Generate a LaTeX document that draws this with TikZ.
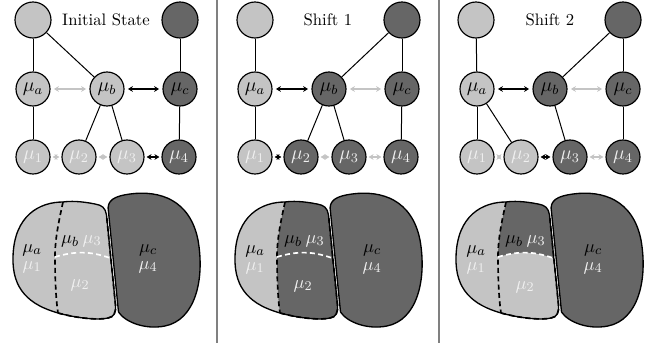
\documentclass[tikz,border=0pt]{standalone}
\usepackage{amsmath}
\usetikzlibrary{arrows.meta}

\definecolor{shadelite}{gray}{0.77}
\definecolor{shadedark}{gray}{0.40}

% outlines of the two regions, in pixel units
\newcommand\blobleft{(63,202) .. controls (40,202) and (14,215) .. (13,257)
  .. controls (12,290) and (30,305) .. (58,313)}
\newcommand\blobbottom{.. controls (80,319) and (100,320) .. (108,318)
  .. controls (114,317) and (116,313) .. (115.5,305) -- (106.5,215)}
\newcommand\blobtop{.. controls (105.5,208) and (102,205) .. (95,204)
  .. controls (80,201) and (70,201) .. (63,202)}
\newcommand\blobright{(108.5,212) .. controls (106,200) and (115,196) .. (130,194)
  .. controls (160,190) and (190,200) .. (198,240)
  .. controls (205,280) and (195,320) .. (165,326)
  .. controls (145,330) and (125,322) .. (118.5,312) -- cycle}
\newcommand\splitline{(63,202) .. controls (58,225) and (55,240) .. (55,257)
  .. controls (55,280) and (56,300) .. (58,313)}
\newcommand\midline{(55,257) .. controls (75,251) and (90,251) .. (110,258)}

\tikzset{
  main node/.style={circle,draw,line width=0.7pt,inner sep=0pt,minimum size=20.4pt,font=\large},
  lite node/.style={main node,fill=shadelite},
  dark node/.style={main node,fill=shadedark},
  big/.style={minimum size=21.6pt},
  num/.style={text=white!94!black},
  tag/.style={font=\fontsize{11}{13}\selectfont},
  link/.style={line width=0.6pt},
  hot/.style={<->,line width=0.9pt,shorten <=2pt,shorten >=2pt},
  cold/.style={hot,draw=shadelite},
  short/.style={shorten <=1.2pt,shorten >=1.2pt},
  outline/.style={line width=0.8pt},
  splitdash/.style={line width=1pt,dash pattern=on 3pt off 2pt},
  sep/.style={draw=black!50,line width=1.2pt}
}

\begin{document}
\begin{tikzpicture}[x=0.6pt,y=-0.6pt,>={Stealth[length=3pt,width=3.5pt,inset=1pt]}]
  \useasboundingbox (0,0) rectangle (651,343);

  \draw[sep] (217,0) -- (217,343);
  \draw[sep] (439,0) -- (439,343);

  % Initial State
  \node[lite node,big] (Atl) at (33,20) {};
  \node[dark node,big] (Atr) at (180,20) {};
  \node (Atitle) at (106,20) {Initial State};
  \node[lite node] (Aa) at (33,89) {$\mu_a$};
  \node[lite node] (Ab) at (107,89) {$\mu_b$};
  \node[dark node] (Ac) at (180,89) {$\mu_c$};
  \node[lite node,num] (A1) at (33,157) {$\mu_1$};
  \node[lite node,num] (A2) at (79,157) {$\mu_2$};
  \node[lite node,num] (A3) at (127,157) {$\mu_3$};
  \node[dark node,num] (A4) at (179,157) {$\mu_4$};

  \path[link]
    (Atl) edge (Aa)
          edge (Ab)
    (Atr) edge (Ac)
    (Aa) edge (A1)
    (Ab) edge (A2)
         edge (A3)
    (Ac) edge (A4);
  \draw[cold] (Aa) -- (Ab);
  \draw[hot] (Ab) -- (Ac);
  \draw[cold,short] (A1) -- (A2);
  \draw[cold,short] (A2) -- (A3);
  \draw[hot,short] (A3) -- (A4);

  \fill[shadelite] \blobleft \blobbottom \blobtop -- cycle;
  \fill[shadedark] \blobright;
  \draw[outline] \blobleft \blobbottom \blobtop -- cycle;
  \draw[splitdash] (58,313) \blobbottom;
  \draw[splitdash] \splitline;
  \draw[outline] \blobright;
  \draw[white,splitdash] \midline;
  \node[tag] (Ala) at (32,250) {$\mu_a$};
  \node[tag,num] (Al1) at (32,267) {$\mu_1$};
  \node[tag] (Alb) at (70,241) {$\mu_b$};
  \node[tag,num] (Al3) at (92,241) {$\mu_3$};
  \node[tag,num] (Al2) at (80,285) {$\mu_2$};
  \node[tag] (Alc) at (148,250) {$\mu_c$};
  \node[tag,num] (Al4) at (148,267) {$\mu_4$};

  % Shift 1
  \begin{scope}[shift={(222,0)}]
    \node[lite node,big] (Btl) at (33,20) {};
    \node[dark node,big] (Btr) at (180,20) {};
    \node (Btitle) at (106,20) {Shift 1};
    \node[lite node] (Ba) at (33,89) {$\mu_a$};
    \node[dark node] (Bb) at (107,89) {$\mu_b$};
    \node[dark node] (Bc) at (180,89) {$\mu_c$};
    \node[lite node,num] (B1) at (33,157) {$\mu_1$};
    \node[dark node,num] (B2) at (79,157) {$\mu_2$};
    \node[dark node,num] (B3) at (127,157) {$\mu_3$};
    \node[dark node,num] (B4) at (179,157) {$\mu_4$};

    \path[link]
      (Btl) edge (Ba)
      (Btr) edge (Bb)
            edge (Bc)
      (Ba) edge (B1)
      (Bb) edge (B2)
           edge (B3)
      (Bc) edge (B4);
    \draw[hot] (Ba) -- (Bb);
    \draw[cold] (Bb) -- (Bc);
    \draw[hot,short] (B1) -- (B2);
    \draw[cold,short] (B2) -- (B3);
    \draw[cold,short] (B3) -- (B4);

    \fill[shadelite] \blobleft \blobbottom \blobtop -- cycle;
    \begin{scope}
      \clip \blobleft \blobbottom \blobtop -- cycle;
      \fill[shadedark] (64,190) -- \splitline -- (58,335) -- (140,335) -- (140,190) -- cycle;
    \end{scope}
    \fill[shadedark] \blobright;
    \draw[outline] \blobleft \blobbottom \blobtop -- cycle;
    \draw[splitdash] (58,313) \blobbottom;
    \draw[splitdash] \splitline;
    \draw[outline] \blobright;
    \draw[white,splitdash] \midline;
    \node[tag] (Bla) at (33,251) {$\mu_a$};
    \node[tag,num] (Bl1) at (33,268) {$\mu_1$};
    \node[tag] (Blb) at (71,241) {$\mu_b$};
    \node[tag,num] (Bl3) at (93,241) {$\mu_3$};
    \node[tag,num] (Bl2) at (81,286) {$\mu_2$};
    \node[tag] (Blc) at (150,250) {$\mu_c$};
    \node[tag,num] (Bl4) at (150,268) {$\mu_4$};
  \end{scope}

  % Shift 2
  \begin{scope}[shift={(443,0)}]
    \node[lite node,big] (Ctl) at (33,20) {};
    \node[dark node,big] (Ctr) at (180,20) {};
    \node (Ctitle) at (107,20) {Shift 2};
    \node[lite node] (Ca) at (34,89) {$\mu_a$};
    \node[dark node] (Cb) at (107,89) {$\mu_b$};
    \node[dark node] (Cc) at (180,89) {$\mu_c$};
    \node[lite node,num] (C1) at (34,157) {$\mu_1$};
    \node[lite node,num] (C2) at (78,157) {$\mu_2$};
    \node[dark node,num] (C3) at (127,157) {$\mu_3$};
    \node[dark node,num] (C4) at (180,157) {$\mu_4$};

    \path[link]
      (Ctl) edge (Ca)
      (Ctr) edge (Cb)
            edge (Cc)
      (Ca) edge (C1)
           edge (C2)
      (Cb) edge (C3)
      (Cc) edge (C4);
    \draw[hot] (Ca) -- (Cb);
    \draw[cold] (Cb) -- (Cc);
    \draw[cold,short] (C1) -- (C2);
    \draw[hot,short] (C2) -- (C3);
    \draw[cold,short] (C3) -- (C4);

    \fill[shadelite] \blobleft \blobbottom \blobtop -- cycle;
    \begin{scope}
      \clip \blobleft \blobbottom \blobtop -- cycle;
      \fill[shadedark] (64,190) -- (63,202) .. controls (58,225) and (55,240) .. (55,257)
        .. controls (75,251) and (90,251) .. (110,258) -- (140,258) -- (140,190) -- cycle;
    \end{scope}
    \fill[shadedark] \blobright;
    \draw[outline] \blobleft \blobbottom \blobtop -- cycle;
    \draw[splitdash] (58,313) \blobbottom;
    \draw[splitdash] \splitline;
    \draw[outline] \blobright;
    \draw[white,splitdash] \midline;
    \node[tag] (Cla) at (33,251) {$\mu_a$};
    \node[tag,num] (Cl1) at (33,268) {$\mu_1$};
    \node[tag] (Clb) at (71,241) {$\mu_b$};
    \node[tag,num] (Cl3) at (93,241) {$\mu_3$};
    \node[tag,num] (Cl2) at (82,287) {$\mu_2$};
    \node[tag] (Clc) at (150,250) {$\mu_c$};
    \node[tag,num] (Cl4) at (150,268) {$\mu_4$};
  \end{scope}
\end{tikzpicture}
\end{document}
